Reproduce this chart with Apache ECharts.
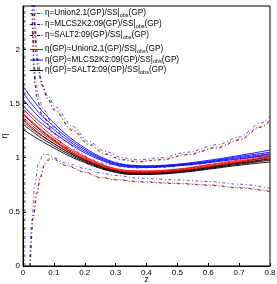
<!DOCTYPE html>
<html><head><meta charset="utf-8">
<script src="https://cdn.jsdelivr.net/npm/echarts@6/dist/echarts.min.js"></script>
<style>html,body{margin:0;padding:0;background:#fff}#c{width:277px;height:284px}</style>
</head><body><div id="c"></div>
<script>
// ---- data ----
var xTicks = [0, 0.1, 0.2, 0.3, 0.4, 0.5, 0.6, 0.7, 0.8];
var yTicks = [0, 0.5, 1, 1.5, 2];
var legendNames = [
  'η=Union2.1(GP)/SS|obs(GP)',
  'η=MLCS2K2:09(GP)/SS|obs(GP)',
  'η=SALT2:09(GP)/SS|obs(GP)',
  'η(GP)=Union2.1(GP)/SS|obs(GP)',
  'η(GP)=MLCS2K2:09(GP)/SS|obs(GP)',
  'η(GP)=SALT2:09(GP)/SS|obs(GP)'
];
// dash-dot curves (η = data / SS)
var zRedMid   = [0.028,0.031,0.034,0.038,0.045,0.061,0.1,0.136,0.18,0.224,0.265,0.32,0.37,0.45,0.55,0.65,0.8];
var etaRedMid = [2.5,2.1,1.85,1.68,1.55,1.4,1.23,1.1,1.0,0.935,0.9,0.87,0.86,0.865,0.89,0.93,1.0];
var zRedUp    = [0.034,0.037,0.042,0.05,0.06,0.08,0.1,0.16,0.213,0.265,0.32,0.37,0.45,0.53,0.63,0.7,0.77,0.8];
var etaRedUp  = [2.5,2.2,1.95,1.8,1.68,1.55,1.45,1.26,1.13,1.04,0.985,0.965,0.985,1.03,1.1,1.17,1.29,1.35];
var zRedLo    = [0.023,0.032,0.045,0.055,0.07,0.087,0.1,0.14,0.2,0.25,0.3,0.38,0.5,0.6,0.7,0.8];
var etaRedLo  = [0.0,0.45,0.68,0.82,0.95,1.0,0.99,0.93,0.87,0.82,0.8,0.78,0.765,0.75,0.725,0.69];
var zBlueMid   = [0.03,0.034,0.037,0.042,0.05,0.065,0.1,0.14,0.18,0.224,0.265,0.32,0.37,0.45,0.55,0.65,0.8];
var etaBlueMid = [2.5,2.1,1.85,1.7,1.57,1.45,1.28,1.15,1.05,0.98,0.945,0.915,0.905,0.91,0.935,0.975,1.05];
var zBlueUp    = [0.037,0.04,0.045,0.05,0.058,0.065,0.08,0.104,0.16,0.213,0.265,0.32,0.37,0.45,0.53,0.63,0.7,0.77,0.8];
var etaBlueUp  = [2.5,2.2,2.0,1.88,1.72,1.66,1.57,1.47,1.29,1.15,1.06,1.0,0.98,1.0,1.05,1.12,1.19,1.32,1.38];
var zBlueLo    = [0.021,0.029,0.038,0.05,0.066,0.08,0.1,0.14,0.2,0.25,0.3,0.38,0.5,0.6,0.7,0.8];
var etaBlueLo  = [0.0,0.43,0.75,0.95,1.03,1.03,1.0,0.95,0.9,0.86,0.835,0.81,0.795,0.78,0.755,0.72];
var zBlackMid   = [0.029,0.032,0.035,0.039,0.046,0.062,0.1,0.136,0.18,0.224,0.265,0.32,0.37,0.45,0.55,0.65,0.8];
var etaBlackMid = [2.5,2.1,1.85,1.67,1.54,1.39,1.22,1.09,0.99,0.925,0.89,0.862,0.852,0.857,0.88,0.92,0.99];
var zBlackUp    = [0.035,0.038,0.043,0.051,0.061,0.08,0.1,0.16,0.213,0.265,0.32,0.37,0.45,0.53,0.63,0.7,0.77,0.8];
var etaBlackUp  = [2.5,2.2,1.95,1.79,1.67,1.54,1.44,1.25,1.12,1.03,0.98,0.96,0.98,1.025,1.09,1.16,1.28,1.34];
var zBlackLo    = [0.024,0.033,0.046,0.056,0.071,0.088,0.1,0.14,0.2,0.25,0.3,0.38,0.5,0.6,0.7,0.8];
var etaBlackLo  = [0.0,0.44,0.67,0.81,0.94,0.99,0.98,0.925,0.865,0.815,0.795,0.775,0.76,0.745,0.72,0.685];
var zPole   = [0.006, 0.006];
var etaPole = [0.0, 2.4];
// solid curves η(GP)
var zGP = [0,0.05,0.1,0.15,0.2,0.25,0.3,0.35,0.4,0.5,0.6,0.7,0.8];
var gpBlue1 = [1.66,1.47,1.32,1.19,1.09,1.01,0.955,0.93,0.925,0.94,0.975,1.02,1.07];
var gpBlue2 = [1.60,1.42,1.29,1.17,1.075,1.0,0.948,0.925,0.92,0.935,0.967,1.01,1.05];
var gpBlue3 = [1.54,1.38,1.26,1.15,1.06,0.99,0.94,0.918,0.915,0.93,0.96,1.0,1.035];
var gpBlue4 = [1.48,1.34,1.23,1.13,1.045,0.98,0.933,0.912,0.91,0.925,0.953,0.99,1.02];
var gpRed1 = [1.45,1.31,1.19,1.09,1.01,0.945,0.9,0.88,0.878,0.895,0.935,0.98,1.035];
var gpRed2 = [1.41,1.28,1.17,1.075,1.0,0.937,0.894,0.874,0.872,0.89,0.928,0.97,1.015];
var gpRed3 = [1.37,1.25,1.15,1.06,0.99,0.93,0.888,0.868,0.867,0.885,0.92,0.96,1.0];
var gpRed4 = [1.33,1.22,1.13,1.045,0.98,0.922,0.882,0.862,0.862,0.88,0.913,0.95,0.985];
var gpBlack1 = [1.40,1.27,1.16,1.06,0.985,0.925,0.882,0.862,0.86,0.875,0.915,0.96,1.01];
var gpBlack2 = [1.35,1.23,1.13,1.045,0.975,0.917,0.876,0.856,0.855,0.87,0.907,0.95,0.99];
var gpBlack3 = [1.31,1.20,1.11,1.03,0.965,0.91,0.87,0.85,0.85,0.865,0.9,0.94,0.975];
var gpBlack4 = [1.26,1.17,1.09,1.015,0.955,0.902,0.864,0.845,0.845,0.86,0.893,0.93,0.96];

// ---- build ----
function pairs(xs, ys){ return xs.map(function(x,i){ return [x, ys[i]]; }); }
var DASHDOT = [3, 2.5, 1, 2.5];
function dd(name, color, xs, ys){
  return {name:name, type:'line', data:pairs(xs,ys), symbol:'none', smooth:0.35, smoothMonotone:'x',
    lineStyle:{color:color, width:0.8, type:DASHDOT, opacity:0.85}, itemStyle:{color:color}, z:2, silent:true};
}
function solid(name, color, ys){
  return {name:name, type:'line', data:pairs(zGP,ys), symbol:'none', smooth:0.4,
    lineStyle:{color:color, width:0.9}, itemStyle:{color:color}, z:3, silent:true};
}
var RED='#ff0000', BLUE='#0000ff', BLACK='#000000';
var legendColors = [RED, BLUE, BLACK, RED, BLUE, BLACK];
var series = [
  dd(legendNames[0], RED, zRedMid, etaRedMid),
  dd(legendNames[1], BLUE, zBlueMid, etaBlueMid),
  dd(legendNames[2], BLACK, zBlackMid, etaBlackMid),
  solid(legendNames[3], RED, gpRed1),
  solid(legendNames[4], BLUE, gpBlue1),
  solid(legendNames[5], BLACK, gpBlack1),
  dd(legendNames[0], RED, zRedUp, etaRedUp),
  dd(legendNames[0], RED, zRedLo, etaRedLo),
  dd(legendNames[1], BLUE, zBlueUp, etaBlueUp),
  dd(legendNames[1], BLUE, zBlueLo, etaBlueLo),
  dd(legendNames[2], BLACK, zBlackUp, etaBlackUp),
  dd(legendNames[2], BLACK, zBlackLo, etaBlackLo),
  dd(legendNames[2], BLACK, zPole, etaPole),
  solid(legendNames[4], BLUE, gpBlue2),
  solid(legendNames[4], BLUE, gpBlue3),
  solid(legendNames[4], BLUE, gpBlue4),
  solid(legendNames[3], RED, gpRed2),
  solid(legendNames[3], RED, gpRed3),
  solid(legendNames[3], RED, gpRed4),
  solid(legendNames[5], BLACK, gpBlack2),
  solid(legendNames[5], BLACK, gpBlack3),
  solid(legendNames[5], BLACK, gpBlack4)
];
var FONT = 'Liberation Sans, Arial, sans-serif';

// legend drawn as graphic elements (sample line + rich text)
var legendRowY = [13, 24, 35, 49, 59.5, 70];
var legendGraphics = [];
legendNames.forEach(function(n, i){
  var y = legendRowY[i];
  legendGraphics.push({
    type:'line', silent:true, z:100,
    shape:{x1:30, y1:y + 0.5, x2:43, y2:y + 0.5},
    style:{stroke:legendColors[i], lineWidth:1, lineDash: i < 3 ? [3, 1.5, 1, 1.5] : null}
  });
  var p = n.split('|obs');
  legendGraphics.push({
    type:'text', silent:true, z:100, x:45, y:y,
    style:{
      text:'{a|' + p[0] + '|}{s|obs}{a|' + p[1] + '}',
      verticalAlign:'middle', align:'left',
      fill:'#000', font:'8.2px ' + FONT,
      rich:{
        a:{fontFamily:FONT, fontSize:8.2, fill:'#000', lineHeight:9},
        s:{fontFamily:FONT, fontSize:5.5, fill:'#000', lineHeight:9, padding:[4,0,0,0]}
      }
    }
  });
});

var chart = echarts.init(document.getElementById('c'), null, {renderer:'canvas'});
chart.setOption({
  animation:false,
  backgroundColor:'#fff',
  grid:{left:23, right:7, top:6, bottom:18, containLabel:false, outerBoundsMode:'none',
    show:true, borderColor:'#000', borderWidth:1, backgroundColor:'transparent'},
  graphic:legendGraphics,
  xAxis:{
    type:'value', min:0, max:0.8, interval:0.1,
    name:'z', nameLocation:'middle', nameGap:9, nameMoveOverlap:false,
    nameTextStyle:{fontFamily:FONT, fontSize:8.5, color:'#000'},
    axisLine:{show:true, lineStyle:{color:'#000', width:1}},
    axisTick:{show:true, inside:true, length:3, lineStyle:{color:'#000'}},
    axisLabel:{fontFamily:FONT, fontSize:8, color:'#000', margin:3,
      formatter:function(v){ var t = xTicks.filter(function(k){return Math.abs(k-v)<1e-6;}); return t.length? String(t[0]) : ''; }},
    splitLine:{show:false}
  },
  yAxis:{
    type:'value', min:0, max:2.4, interval:0.5,
    name:'η', nameLocation:'middle', nameGap:14, nameRotate:90, nameMoveOverlap:false,
    nameTextStyle:{fontFamily:FONT, fontSize:8.5, color:'#000'},
    axisLine:{show:true, lineStyle:{color:'#000', width:1}},
    axisTick:{show:true, inside:true, length:3, lineStyle:{color:'#000'}},
    axisLabel:{fontFamily:FONT, fontSize:8, color:'#000', margin:3, showMaxLabel:false,
      formatter:function(v){ var t = yTicks.filter(function(k){return Math.abs(k-v)<1e-6;}); return t.length? String(t[0]) : ''; }},
    splitLine:{show:false}
  },
  series:series
});
</script></body></html>
